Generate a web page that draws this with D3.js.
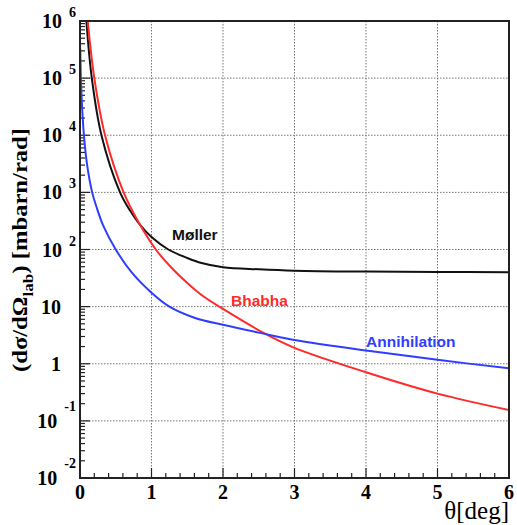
<!DOCTYPE html>
<html>
<head>
<meta charset="utf-8">
<script src="https://cdn.jsdelivr.net/npm/d3@7"></script>
<style>
  body { margin: 0; background: #fff; }
</style>
</head>
<body>
<script>
var w = 517;
var h = 525;

// values: theta [deg], dsigma/dOmega [mbarn/rad]
var mollerTheta = [0.089, 0.165, 0.30, 0.56, 0.70, 0.84, 1.0, 1.235, 1.5, 1.7, 2.0, 2.5, 3.0, 4.0, 5.0, 6.0];
var mollerValue = [1e6, 1e5, 1e4, 1e3, 480, 270, 165, 100, 71, 58, 49, 45, 42.5, 41, 40.5, 40];

var bhabhaTheta = [0.108, 0.20, 0.35, 0.61, 0.84, 1.06, 1.3, 1.5, 1.7, 2.0, 2.6, 3.0, 4.0, 5.0, 6.0];
var bhabhaValue = [1e6, 1e5, 1e4, 1e3, 270, 100, 45, 26, 16, 9.1, 3.3, 1.9, 0.71, 0.30, 0.155];

var annihTheta = [0.004, 0.012, 0.03, 0.055, 0.10, 0.17, 0.23, 0.32, 0.50, 0.72, 1.0, 1.25, 1.6, 2.0, 2.6, 3.0, 4.0, 5.0, 6.0];
var annihValue = [3.3e5, 1e5, 3e4, 1e4, 3000, 1e3, 560, 270, 100, 40, 17.5, 10, 6.4, 4.8, 3.3, 2.6, 1.7, 1.17, 0.83];

var xTicks = [0, 1, 2, 3, 4, 5, 6];
var yExponents = [-2, -1, 0, 1, 2, 3, 4, 5, 6];

var series = [
  { name: "Møller", color: "#111111", theta: mollerTheta, value: mollerValue, lx: 172, ly: 240 },
  { name: "Bhabha", color: "#ff2a2a", theta: bhabhaTheta, value: bhabhaValue, lx: 231, ly: 306 },
  { name: "Annihilation", color: "#2f3dff", theta: annihTheta, value: annihValue, lx: 366, ly: 347 }
];

// plot area (window.top is reserved, so p* names)
var pLeft = 80, pRight = 509, pTop = 21, pBottom = 478;

var x = d3.scaleLinear().domain([0, 6]).range([pLeft, pRight]);
var y = d3.scaleLog().domain([1e-2, 1e6]).range([pBottom, pTop]);

var svg = d3.select("body").append("svg").attr("width", w).attr("height", h);
svg.append("rect").attr("width", w).attr("height", h).attr("fill", "#fff");

// grid
var grid = svg.append("g")
  .attr("stroke", "#777")
  .attr("stroke-width", 1)
  .attr("stroke-dasharray", "1.5,1.5");
grid.selectAll(".gx")
  .data(xTicks.slice(1, -1))
  .enter().append("line")
  .attr("x1", d => x(d)).attr("x2", d => x(d))
  .attr("y1", pTop).attr("y2", pBottom);
grid.selectAll(".gy")
  .data(yExponents.slice(1, -1))
  .enter().append("line")
  .attr("x1", pLeft).attr("x2", pRight)
  .attr("y1", d => y(Math.pow(10, d))).attr("y2", d => y(Math.pow(10, d)));

// ticks
var ticks = svg.append("g").attr("stroke", "#222").attr("stroke-width", 1.2);
var xMinor = d3.range(0, 30).map(i => i * 0.2);
ticks.selectAll(".tx")
  .data(xMinor)
  .enter().append("line")
  .attr("x1", d => x(d)).attr("x2", d => x(d))
  .attr("y1", pBottom)
  .attr("y2", (d, i) => pBottom - (i % 5 == 0 ? 10 : 5));

var yMinor = [];
yExponents.slice(0, -1).forEach(function (e) {
  for (var k = 2; k <= 9; k++) yMinor.push(k * Math.pow(10, e));
});
ticks.selectAll(".tym")
  .data(yMinor)
  .enter().append("line")
  .attr("x1", pLeft).attr("x2", pLeft + 5)
  .attr("y1", d => y(d)).attr("y2", d => y(d));
ticks.selectAll(".tyM")
  .data(yExponents)
  .enter().append("line")
  .attr("x1", pLeft).attr("x2", pLeft + 10)
  .attr("y1", d => y(Math.pow(10, d))).attr("y2", d => y(Math.pow(10, d)));

// curves
svg.append("clipPath").attr("id", "plot")
  .append("rect").attr("x", pLeft).attr("y", pTop)
  .attr("width", pRight - pLeft).attr("height", pBottom - pTop);

var line = d3.line()
  .x(d => x(d[0]))
  .y(d => y(d[1]))
  .curve(d3.curveCatmullRom.alpha(0.5));

svg.append("g").attr("clip-path", "url(#plot)")
  .selectAll("path")
  .data(series)
  .enter().append("path")
  .attr("d", s => line(d3.zip(s.theta, s.value)))
  .attr("fill", "none")
  .attr("stroke", s => s.color)
  .attr("stroke-width", 2);

svg.selectAll(".lab")
  .data(series)
  .enter().append("text")
  .attr("x", s => s.lx).attr("y", s => s.ly)
  .attr("fill", s => s.color)
  .style("font-family", "'Liberation Sans', Arial, sans-serif")
  .style("font-weight", "bold")
  .style("font-size", "15.5px")
  .text(s => s.name);

// frame
svg.append("rect")
  .attr("x", pLeft).attr("y", pTop)
  .attr("width", pRight - pLeft).attr("height", pBottom - pTop)
  .attr("fill", "none").attr("stroke", "#222").attr("stroke-width", 2);

// tick labels
var serif = "'Liberation Serif', 'Times New Roman', serif";
svg.selectAll(".xl")
  .data(xTicks)
  .enter().append("text")
  .attr("x", d => x(d)).attr("y", 499)
  .attr("text-anchor", "middle")
  .style("font-family", serif).style("font-weight", "bold").style("font-size", "20px")
  .text(d => d);

yExponents.forEach(function (e) {
  var yy = y(Math.pow(10, e)) + 7;
  var t = svg.append("text")
    .attr("text-anchor", "end")
    .attr("y", yy)
    .style("font-family", serif).style("font-weight", "bold").style("font-size", "20px");
  if (e == 0 || e == 1) {
    t.attr("x", 61).text(e == 0 ? "1" : "10");
  } else {
    t.attr("x", 76);
    t.append("tspan").text("10");
    t.append("tspan")
      .attr("dx", 7)
      .attr("dy", e < 0 ? -17 : -11)
      .style("font-size", "14px")
      .text(e < 0 ? "-" + (-e) : e);
  }
});

// axis titles
svg.append("text")
  .attr("x", pRight).attr("y", 519)
  .attr("text-anchor", "end")
  .style("font-family", serif).style("font-size", "25px")
  .text("θ[deg]");

var yt = svg.append("text")
  .attr("transform", "translate(27,250) rotate(-90)")
  .attr("text-anchor", "middle")
  .style("font-family", serif).style("font-weight", "bold").style("font-size", "21.5px");
yt.append("tspan").text("(dσ/dΩ");
yt.append("tspan").attr("dy", 6).style("font-size", "15px").text("lab");
yt.append("tspan").attr("dy", -6).text(") [mbarn/rad]");
// fit the title to the 244px it spans in the picture
var len = yt.node().getComputedTextLength();
if (len > 0) yt.attr("textLength", 244).attr("lengthAdjust", "spacingAndGlyphs");
</script>
</body>
</html>
